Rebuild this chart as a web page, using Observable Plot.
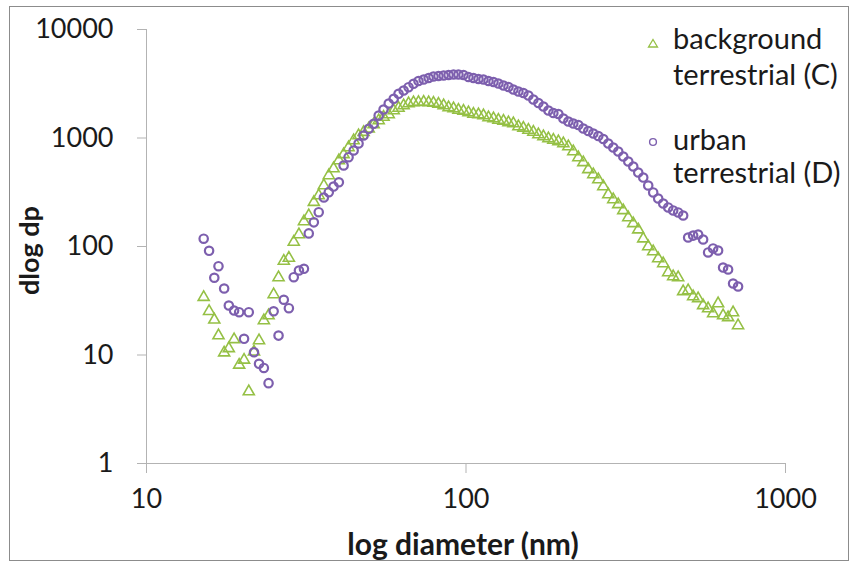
<!DOCTYPE html>
<html>
<head>
<meta charset="utf-8">
<script src="https://cdn.jsdelivr.net/npm/d3@7"></script>
<script src="https://cdn.jsdelivr.net/npm/@observablehq/plot@0.6"></script>
<style>
  body { margin: 0; background: #fff; }
  #wrap { position: relative; width: 851px; height: 563px; overflow: hidden; }
  #frame { position: absolute; left: 9px; top: 6px; width: 840px; height: 555px; border: 1.5px solid #8c8c8c; box-sizing: border-box; pointer-events: none; }
  #legend { position: absolute; left: 0; top: 0; pointer-events: none; }
  #legend text { font-family: Lato, sans-serif; font-size: 29px; fill: #1a1a1a; }
</style>
</head>
<body>
<div id="wrap">
  <div id="chart"></div>
  <div id="frame"></div>
  <svg id="legend" width="851" height="563">
    <polygon points="653,39.5 657.5,47 648.5,47" fill="none" stroke="#95c045" stroke-width="1.3"></polygon>
    <text x="673" y="49">background</text>
    <text x="673" y="85">terrestrial (C)</text>
    <circle cx="653" cy="142" r="3.4" fill="none" stroke="#7d5fae" stroke-width="1.4"></circle>
    <text x="673" y="150">urban</text>
    <text x="673" y="183">terrestrial (D)</text>
  </svg>
</div>
<script>
// particle diameter bins (nm)
const diameters = [15.1, 15.7, 16.3, 16.8, 17.5, 18.1, 18.8, 19.5, 20.2, 20.9, 21.7, 22.5, 23.3, 24.1, 25.0, 25.9, 26.9, 27.9, 28.9, 30.0, 31.1, 32.2, 33.4, 34.6, 35.9, 37.2, 38.5, 40.0, 41.4, 42.9, 44.5, 46.1, 47.8, 49.6, 51.4, 53.3, 55.2, 57.3, 59.4, 61.5, 63.8, 66.1, 68.5, 71.0, 73.7, 76.4, 79.1, 82.0, 85.1, 88.2, 91.4, 94.7, 98.2, 101.8, 105.5, 109.4, 113.4, 117.6, 121.9, 126.3, 131.0, 135.8, 140.7, 145.9, 151.2, 156.8, 162.5, 168.5, 174.7, 181.1, 187.7, 194.6, 201.7, 209.1, 216.7, 224.7, 232.9, 241.4, 250.3, 259.5, 269.0, 278.8, 289.0, 299.6, 310.6, 322.0, 333.8, 346.0, 358.7, 371.8, 385.4, 399.5, 414.2, 429.4, 445.1, 461.4, 478.3, 495.8, 514.0, 532.8, 552.3, 572.5, 593.5, 615.3, 637.8, 661.2, 685.4, 710.5];

// background terrestrial (C)
const background = [34.1, 25.3, 21.1, 15.1, 10.5, 11.5, 13.9, 8.1, 9.0, 4.6, 10.7, 13.6, 20.8, 23.1, 36.1, 51.8, 73.5, 78.3, 110, 129, 170, 193, 256, 295, 365, 451, 523, 620, 705, 817, 948, 1054, 1131, 1215, 1332, 1450, 1561, 1647, 1792, 1890, 1993, 2080, 2125, 2138, 2147, 2125, 2102, 2058, 1993, 1910, 1870, 1812, 1774, 1718, 1664, 1647, 1612, 1545, 1512, 1465, 1434, 1390, 1360, 1276, 1237, 1185, 1136, 1077, 1032, 989, 958, 928, 890, 835, 751, 661, 595, 513, 461, 414, 357, 301, 271, 244, 215, 185, 163, 143, 118, 100, 89.9, 77.5, 69.7, 57.6, 52.9, 51.8, 38.5, 39.3, 34.6, 33.2, 28.6, 26.8, 24.1, 29.8, 23.1, 22.2, 24.6, 18.7];

// urban terrestrial (D)
const urban = [118, 91.3, 51.5, 65.8, 41.0, 28.6, 25.7, 24.8, 14.1, 24.8, 10.6, 8.3, 7.6, 5.5, 25.3, 15.1, 32.3, 27.0, 52.1, 60.1, 62.3, 132, 167, 207, 283, 317, 357, 391, 558, 665, 767, 890, 1054, 1215, 1352, 1612, 1831, 2080, 2298, 2555, 2741, 2939, 3159, 3353, 3462, 3573, 3689, 3728, 3767, 3808, 3849, 3849, 3808, 3650, 3573, 3498, 3462, 3353, 3282, 3179, 3047, 2951, 2799, 2683, 2598, 2464, 2263, 2102, 1951, 1792, 1700, 1664, 1512, 1419, 1360, 1318, 1223, 1160, 1100, 1043, 979, 890, 817, 751, 675, 607, 546, 481, 432, 365, 315, 277, 249, 229, 215, 206, 193, 121, 126, 129, 116, 88.1, 95.9, 91.9, 64.0, 61.4, 45.6, 42.8];

const xTicks = [10, 100, 1000];
const yTicks = [1, 10, 100, 1000, 10000];
const xTitle = "log diameter (nm)";
const yTitle = "dlog dp";

const table = diameters.map((d, i) => ({d, background: background[i], urban: urban[i]}));

const axisColor = "#b3b3b3";
const textColor = "#1a1a1a";

const plot = Plot.plot({
  width: 851,
  height: 563,
  marginLeft: 146,
  marginRight: 66,
  marginTop: 29,
  marginBottom: 100,
  style: {fontFamily: "Lato, sans-serif", fontSize: "27px", color: textColor, background: "transparent"},
  x: {type: "log", domain: [10, 1000]},
  y: {type: "log", domain: [1, 10000]},
  marks: [
    Plot.ruleY([1], {stroke: axisColor}),
    Plot.ruleX([10], {stroke: axisColor}),
    Plot.axisX({ticks: xTicks, tickSize: 10, tickPadding: 15, tickFormat: d => String(d), stroke: axisColor, fill: textColor, label: null}),
    Plot.axisY({ticks: yTicks, tickSize: 9, tickPadding: 24, tickFormat: d => String(d), stroke: axisColor, fill: textColor, label: null}),
    Plot.dot(table, {x: "d", y: "background", symbol: "triangle", r: 4.1, stroke: "#95c045", strokeWidth: 1.6, fill: "none"}),
    Plot.dot(table, {x: "d", y: "urban", symbol: "circle", r: 4.2, stroke: "#7d5fae", strokeWidth: 2.2, fill: "none"}),
    Plot.text([xTitle], {frameAnchor: "bottom", dy: 82, dx: -3, textAnchor: "middle", lineAnchor: "middle", fontWeight: "bold", fontSize: 30, fill: textColor}),
    Plot.text([yTitle], {frameAnchor: "left", dx: -116, dy: 4, textAnchor: "middle", lineAnchor: "middle", rotate: -90, fontWeight: "bold", fontSize: 27, fill: textColor})
  ]
});
document.getElementById("chart").appendChild(plot);
</script>
</body>
</html>
